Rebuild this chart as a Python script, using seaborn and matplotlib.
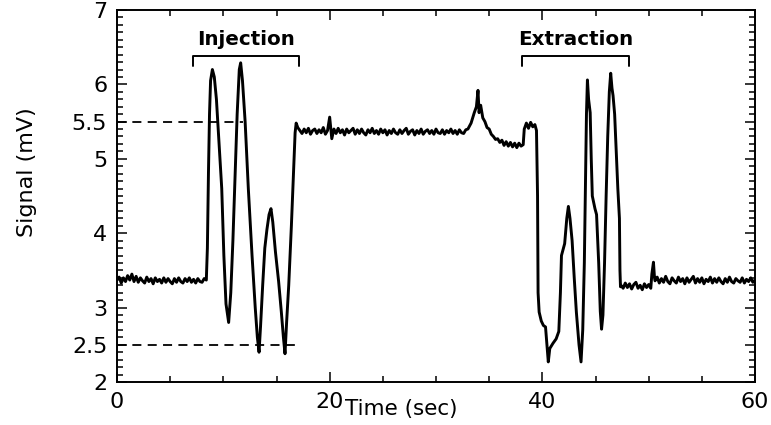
import numpy as np
import pandas as pd
import matplotlib
matplotlib.use("Agg")
import matplotlib.pyplot as plt
import seaborn as sns
from matplotlib.ticker import MultipleLocator, FixedLocator

# ---- data ----
# baseline before injection, sampled every 0.2 s from 0.0 to 8.4 s
pre_values = [3.37, 3.41, 3.33, 3.40, 3.35, 3.43, 3.37, 3.45, 3.35, 3.42,
              3.34, 3.40, 3.36, 3.33, 3.41, 3.35, 3.39, 3.32, 3.40, 3.35,
              3.38, 3.33, 3.40, 3.34, 3.39, 3.35, 3.32, 3.39, 3.34, 3.40,
              3.35, 3.33, 3.39, 3.35, 3.40, 3.34, 3.38, 3.33, 3.39, 3.35,
              3.34, 3.39, 3.37]
pre_range = (0.0, 8.4)

injection_t = [8.5, 8.6, 8.7, 8.8, 8.97, 9.15, 9.35, 9.6, 9.85, 10.05, 10.25, 10.5,
               10.7, 10.9, 11.1, 11.3, 11.5, 11.63, 11.8, 12.05, 12.35, 12.7, 13.0,
               13.2, 13.36, 13.5, 13.7, 13.9, 14.1, 14.3, 14.48, 14.65, 14.9, 15.2,
               15.45, 15.65, 15.8, 15.95, 16.15, 16.4, 16.6, 16.75, 16.85, 17.0]
injection_v = [3.8, 4.8, 5.6, 6.05, 6.2, 6.1, 5.8, 5.2, 4.6, 3.7, 3.05, 2.8,
               3.2, 3.9, 4.75, 5.6, 6.2, 6.29, 6.05, 5.5, 4.6, 3.7, 3.0,
               2.6, 2.40, 2.75, 3.3, 3.8, 4.05, 4.25, 4.33, 4.15, 3.75, 3.35,
               2.95, 2.6, 2.38, 2.8, 3.3, 4.1, 4.8, 5.35, 5.48, 5.42]

# plateau, sampled every 0.2 s from 17.2 to 32.8 s
plateau_values = [5.38, 5.34, 5.40, 5.35, 5.41, 5.33, 5.38, 5.40, 5.34, 5.39,
                  5.35, 5.42, 5.33, 5.38, 5.56, 5.27, 5.40, 5.34, 5.41, 5.35,
                  5.39, 5.32, 5.40, 5.35, 5.38, 5.41, 5.33, 5.39, 5.34, 5.40,
                  5.35, 5.32, 5.39, 5.35, 5.41, 5.34, 5.38, 5.33, 5.40, 5.35,
                  5.39, 5.32, 5.38, 5.34, 5.40, 5.35, 5.33, 5.39, 5.34, 5.38,
                  5.41, 5.33, 5.37, 5.39, 5.32, 5.38, 5.34, 5.40, 5.33, 5.37,
                  5.39, 5.34, 5.38, 5.33, 5.40, 5.35, 5.34, 5.39, 5.33, 5.38,
                  5.35, 5.40, 5.34, 5.38, 5.33, 5.39, 5.35, 5.34, 5.39]
plateau_range = (17.2, 32.8)

extraction_t = [33.0, 33.3, 33.6, 33.8, 33.95, 34.05, 34.2, 34.4, 34.6, 34.8, 35.0,
                35.2, 35.4, 35.6, 35.8, 36.0, 36.2, 36.4, 36.6, 36.8, 37.0, 37.2,
                37.4, 37.6, 37.8, 38.0, 38.2, 38.3, 38.5, 38.7, 38.9, 39.1, 39.3,
                39.45, 39.55, 39.6, 39.7, 39.9, 40.1, 40.3, 40.56, 40.7, 41.0, 41.3,
                41.55, 41.7, 41.8, 42.1, 42.3, 42.45, 42.6, 42.8, 43.0, 43.2, 43.45,
                43.64, 43.8, 43.95, 44.05, 44.15, 44.24, 44.35, 44.5, 44.6, 44.7,
                44.95, 45.1, 45.3, 45.45, 45.57, 45.7, 45.85, 46.0, 46.15, 46.3,
                46.43, 46.55, 46.65, 46.8, 46.95, 47.1, 47.25, 47.3, 47.35]
extraction_v = [5.40, 5.48, 5.62, 5.70, 5.92, 5.62, 5.72, 5.55, 5.50, 5.42, 5.40,
                5.33, 5.30, 5.26, 5.27, 5.22, 5.25, 5.18, 5.23, 5.17, 5.22, 5.16,
                5.21, 5.15, 5.21, 5.17, 5.19, 5.40, 5.48, 5.41, 5.49, 5.43, 5.46,
                5.38, 4.5, 3.2, 2.94, 2.82, 2.76, 2.74, 2.27, 2.45, 2.52, 2.58,
                2.68, 3.2, 3.70, 3.86, 4.2, 4.36, 4.2, 3.9, 3.4, 2.94, 2.5,
                2.27, 2.7, 3.6, 4.6, 5.6, 6.06, 5.8, 5.62, 5.0, 4.5,
                4.33, 4.25, 3.6, 2.95, 2.71, 2.9, 3.6, 4.5, 5.3, 5.9,
                6.15, 5.95, 5.85, 5.6, 5.1, 4.6, 4.2, 3.5, 3.28]

# after extraction, sampled every 0.2 s from 47.4 to 50.2 s
post1_values = [3.30, 3.26, 3.33, 3.27, 3.32, 3.25, 3.31, 3.34, 3.26, 3.30,
                3.24, 3.32, 3.27, 3.31, 3.26]
post1_range = (47.4, 50.2)

spike_t = [50.3, 50.45, 50.55]
spike_v = [3.45, 3.61, 3.40]

# final baseline, sampled every 0.2 s from 50.6 to 60.0 s
post2_values = [3.36, 3.41, 3.33, 3.39, 3.34, 3.42, 3.35, 3.32, 3.40, 3.36,
                3.33, 3.41, 3.35, 3.39, 3.32, 3.40, 3.34, 3.38, 3.42, 3.33,
                3.39, 3.34, 3.40, 3.32, 3.38, 3.35, 3.41, 3.33, 3.39, 3.34,
                3.40, 3.35, 3.32, 3.39, 3.34, 3.41, 3.35, 3.33, 3.39, 3.36,
                3.34, 3.40, 3.33, 3.38, 3.35, 3.40, 3.34, 3.37]
post2_range = (50.6, 60.0)

threshold_levels = [5.5, 2.5]
threshold_ends = [11.85, 16.74]

phase_labels = ["Injection", "Extraction"]
phase_starts = [7.17, 38.1]
phase_ends = [17.14, 48.15]

x_ticks = [0, 20, 40, 60]
y_ticks = [2, 2.5, 3, 4, 5, 5.5, 6, 7]
y_ticklabels = ["2", "2.5", "3", "4", "5", "5.5", "6", "7"]

# ---- assemble ----
def grid(rng, vals):
    return list(np.linspace(rng[0], rng[1], len(vals)))

t = (grid(pre_range, pre_values) + injection_t + grid(plateau_range, plateau_values)
     + extraction_t + grid(post1_range, post1_values) + spike_t + grid(post2_range, post2_values))
v = pre_values + injection_v + plateau_values + extraction_v + post1_values + spike_v + post2_values
df = pd.DataFrame({"Time (sec)": t, "Signal (mV)": v})

sns.set_style("ticks")
plt.rcParams['font.family'] = ['DejaVu Sans']
plt.rcParams['text.color'] = 'black'
plt.rcParams['axes.labelcolor'] = 'black'
plt.rcParams['xtick.color'] = 'black'
plt.rcParams['ytick.color'] = 'black'

fig = plt.figure(figsize=(7.71, 4.25), dpi=100)
ax = fig.add_axes([117 / 771, 1 - 382 / 425, (755 - 117) / 771, (382 - 10) / 425])

sns.lineplot(data=df, x="Time (sec)", y="Signal (mV)", estimator=None, sort=False,
             color="black", lw=2.1, ax=ax)

for lvl, end in zip(threshold_levels, threshold_ends):
    ax.plot([0, end], [lvl, lvl], color="black", lw=1.3, ls=(0, (5, 3.5)))

for lab, s, e in zip(phase_labels, phase_starts, phase_ends):
    ax.plot([s, s, e, e], [6.25, 6.38, 6.38, 6.25], color="black", lw=1.4)
    ax.text((s + e) / 2, 6.6, lab, ha="center", va="center", color="black",
            fontsize=14.3, fontweight="bold")

ax.set_xlim(0, 60)
ax.set_ylim(2, 7)
ax.xaxis.set_major_locator(FixedLocator(x_ticks))
ax.xaxis.set_minor_locator(MultipleLocator(5))
ax.set_yticks(y_ticks)
ax.set_yticklabels(y_ticklabels)
ax.yaxis.set_minor_locator(MultipleLocator(0.1))
ax.tick_params(which="both", direction="in", top=True, right=True, width=1.1,
               colors="black")
ax.tick_params(which="major", length=7, labelsize=16, pad=7)
ax.tick_params(which="minor", length=4)
for sp in ax.spines.values():
    sp.set_linewidth(1.4)
    sp.set_color("black")

ax.set_xlabel("Time (sec)", fontsize=15.5, color="black")
ax.xaxis.set_label_coords(0.445, -0.045)
ax.set_ylabel("Signal (mV)", fontsize=16, va="center", color="black")
ax.yaxis.set_label_coords(-0.141, 0.565)

fig.savefig("out.png", dpi=100)
